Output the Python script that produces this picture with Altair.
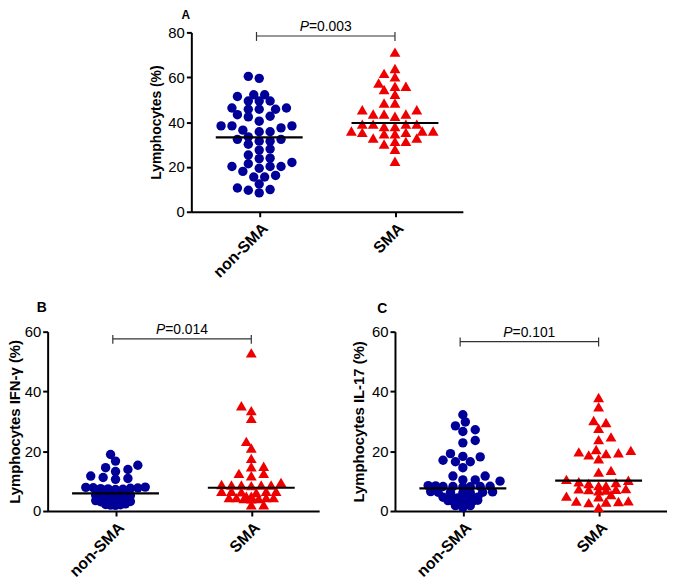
import altair as alt
import pandas as pd

# ---------------- data ----------------
groups = ["non-SMA", "SMA"]

a_non = [60.4, 59.5, 52.2, 51.4, 52.2, 49.4, 49.4, 49.4, 46.3, 45.7, 45.7, 45.7, 46.3,
         42.3, 42.6, 43.3, 40.4, 38.3, 37.4, 35.7, 35.7, 36.4, 38.3, 38.3, 32.3, 31.5,
         30.1, 31.5, 32.3, 33.4, 27.5, 28.0, 25.3, 23.9, 22.0, 23.7, 20.2, 20.2, 20.2,
         21.4, 19.4, 18.0, 15.5, 15.5, 16.2, 12.4, 10.6, 8.4, 9.6, 9.9]
a_sma = [71.2, 63.9, 61.7, 60.2, 56.0, 54.5, 56.0, 57.4, 52.4, 48.5, 48.5, 45.5, 45.5,
         43.6, 43.6, 43.6, 42.6, 39.1, 39.1, 38.0, 38.0, 39.1, 39.1, 35.4, 36.0, 34.8,
         36.0, 34.8, 36.0, 35.4, 31.4, 32.9, 32.9, 31.4, 30.2, 27.9, 22.5]

b_non = [18.9, 16.7, 15.3, 14.5, 13.9, 13.2, 11.7, 11.2, 10.9, 10.6,
         8.0, 7.5, 7.8, 7.2, 7.6, 7.9, 7.3, 7.7, 7.4,
         5.5, 5.0, 5.3, 4.8, 5.6, 5.1, 4.9, 5.4, 5.2, 4.7, 5.8, 5.0, 4.5, 5.3,
         3.5, 3.0, 3.3, 2.8, 3.6, 3.1, 2.9, 3.4, 3.2, 2.7, 3.5, 3.0,
         2.2, 2.0, 2.4, 2.1, 1.9]
b_sma = [52.9, 35.2, 33.6, 31.0, 23.3, 21.1, 17.6, 15.0, 14.8, 12.6, 11.8, 12.6,
         8.7, 8.7, 8.9, 8.7, 8.5, 8.7, 9.6,
         6.6, 6.4, 6.6, 6.2, 6.6, 6.6,
         4.5, 4.2, 4.1, 5.0, 5.0, 4.5, 4.2, 4.5, 4.5,
         2.1, 2.1]

c_non = [32.2, 29.8, 28.5, 26.6, 27.2, 23.6, 22.8, 19.2, 18.3, 18.1, 17.0, 16.5, 16.5,
         14.5, 11.7, 11.7, 10.4, 10.4, 10.0,
         8.2, 8.0, 8.3, 8.5, 8.1, 8.2, 8.4, 8.2,
         6.3, 6.1, 6.4, 6.3, 6.2, 6.5, 6.3,
         4.5, 4.4, 4.6, 4.6, 4.5, 4.3, 4.4, 4.5,
         3.4, 3.3, 3.4, 3.5, 3.2, 3.4, 3.6,
         1.8, 1.8, 1.2]
c_sma = [38.0, 34.9, 30.3, 29.6, 27.7, 24.8, 23.9, 20.6, 20.3, 19.8, 19.5, 19.2, 18.8,
         17.5, 13.6, 13.0, 10.6, 10.3, 9.8, 9.5, 9.2, 8.5, 8.5, 7.3, 7.0, 7.5, 6.8, 7.2,
         7.4, 5.5, 3.2, 3.0, 3.4, 2.8, 3.3, 1.2, 5.0, 4.8]

medians = {"A": [33.2, 39.6], "B": [5.9, 7.8], "C": [7.6, 10.2]}
y_max = {"A": 80, "B": 60, "C": 60}
y_ticks = {"A": [0, 20, 40, 60, 80], "B": [0, 20, 40, 60], "C": [0, 20, 40, 60]}
y_titles = {"A": "Lymphocytes (%)", "B": "Lymphocytes IFN-γ (%)", "C": "Lymphocytes IL-17 (%)"}
bracket_y = {"A": 78.4, "B": 57.6, "C": 56.7}
p_values = {"A": "=0.003", "B": "=0.014", "C": "=0.101"}

W, H = 274, 181
FONT = "Liberation Sans"


def swarm(values, ppu, wmax, step, smax=11.0, smin=5.5, sy_min=1.8):
    """Prism-like scatter: horizontal pixel offsets, rows compressed where points are dense"""
    ys = [v * ppu for v in values]
    order = sorted(range(len(values)), key=lambda i: ys[i])
    placed = []
    offs = [0.0] * len(values)
    for i in order:
        y = ys[i]
        n = sum(1 for yy in ys if abs(yy - y) < 5)
        sx = max(smin, min(smax, wmax / n))
        t = (sx - smin) / (smax - smin)
        sy = sy_min + t * (0.65 * smax - sy_min)
        k = 0
        found = None
        while found is None:
            cands = [0.0] if k == 0 else ([k * step, -k * step] if k % 2 else [-k * step, k * step])
            for x in cands:
                if all(((x - px) / sx) ** 2 + ((y - py) / sy) ** 2 >= 0.999 for px, py in placed):
                    found = x
                    break
            k += 1
        placed.append((found, y))
        offs[i] = found
    return offs


def panel(key, non, sma, title_x, title_size, label_x, label_y, label_size, wmax, step, smin):
    ymax = y_max[key]
    ppu = H / ymax
    rows = []
    for gi, (g, vals) in enumerate(zip(groups, [non, sma])):
        offs = swarm(vals, ppu, wmax, step, smin=smin)
        for v, o in zip(vals, offs):
            rows.append({"x": gi + o / (W / 2), "y": v, "g": g})
    pts = pd.DataFrame(rows)

    xenc = alt.X("x:Q", scale=alt.Scale(domain=[-0.5, 1.5], nice=False, zero=False),
                 axis=alt.Axis(values=[0, 1],
                               labelExpr="datum.value == 0 ? 'non-SMA' : 'SMA'",
                               labelAngle=-45, labelFontSize=16, labelFontWeight="bold",
                               labelFlush=False, labelPadding=3, title=None))
    yenc = alt.Y("y:Q", scale=alt.Scale(domain=[0, ymax], nice=False, zero=True),
                 axis=alt.Axis(values=y_ticks[key], title=y_titles[key], titleX=title_x,
                               titleY=H / 2, titleFontSize=title_size, titleFontWeight="bold",
                               titleBaseline="middle", titleAlign="center",
                               labelFontSize=15, labelPadding=2))

    circles = alt.Chart(pts[pts.g == groups[0]]).mark_point(
        shape="circle", filled=True, size=90, color="#000099", opacity=1
    ).encode(x=xenc, y=yenc)
    tris = alt.Chart(pts[pts.g == groups[1]]).mark_point(
        shape="triangle-up", filled=True, size=120, color="#ee0000", opacity=1
    ).encode(x=xenc, y=yenc)

    med = pd.DataFrame({"x": [i - 0.32 for i in range(2)], "x2": [i + 0.32 for i in range(2)],
                        "y": medians[key]})
    med_rule = alt.Chart(med).mark_rule(color="black", strokeWidth=2.2).encode(
        x=xenc, x2="x2:Q", y=yenc)

    br = pd.DataFrame({"x": [-0.02], "x2": [1.0], "y": [bracket_y[key]]})
    br_h = alt.Chart(br).mark_rule(color="#333333", strokeWidth=1.2).encode(x=xenc, x2="x2:Q", y=yenc)
    brv = pd.DataFrame({"x": [-0.02, 1.0], "y": [bracket_y[key]] * 2})
    br_v = alt.Chart(brv).mark_rule(color="#333333", strokeWidth=1.2, yOffset=-4, y2Offset=5).encode(
        x=xenc, y=yenc, y2="y:Q")

    pt = pd.DataFrame({"x": [0.49], "y": [bracket_y[key]], "p": ["P"], "t": [p_values[key]]})
    p1 = alt.Chart(pt).mark_text(font=FONT, fontSize=14, fontStyle="italic", align="right",
                                 baseline="alphabetic", dx=-17, dy=-5, color="black").encode(
        x=xenc, y=yenc, text="p:N")
    p2 = alt.Chart(pt).mark_text(font=FONT, fontSize=14, align="left",
                                 baseline="alphabetic", dx=-17, dy=-5, color="black").encode(
        x=xenc, y=yenc, text="t:N")

    lab = alt.Chart(pd.DataFrame({"t": [key]})).mark_text(
        font=FONT, fontSize=label_size, fontWeight="bold", align="left", baseline="top",
        color="black").encode(x=alt.value(label_x), y=alt.value(label_y), text="t:N")

    return alt.layer(circles, tris, med_rule, br_h, br_v, p1, p2, lab).properties(width=W, height=H)


pA = panel("A", a_non, a_sma, title_x=-35, title_size=14, label_x=-10, label_y=-23, label_size=12,
           wmax=1000, step=5.5, smin=5.5)
pB = panel("B", b_non, b_sma, title_x=-33, title_size=15, label_x=-11, label_y=-31, label_size=14,
           wmax=65, step=2.5, smin=5.0)
pC = panel("C", c_non, c_sma, title_x=-37, title_size=15, label_x=-18, label_y=-30, label_size=14,
           wmax=65, step=2.5, smin=5.0)

spacer = alt.Chart(pd.DataFrame({"a": [0]})).mark_point(opacity=0).encode(
    x=alt.value(0), y=alt.value(0)).properties(width=125, height=H)

top = alt.hconcat(spacer, pA, spacing=20, bounds="flush")
bottom = alt.hconcat(pB, pC, spacing=76.5, bounds="flush")

chart = alt.vconcat(top, bottom, spacing=302, bounds="flush").properties(
    padding={"left": 0, "top": -2, "right": 0, "bottom": 0}, background="white"
).configure_view(stroke=None).configure_axis(
    grid=False, domainColor="black", domainWidth=2, tickColor="black", tickWidth=2,
    tickSize=5, labelFont=FONT, titleFont=FONT, labelColor="black", titleColor="black"
)

chart.save("out.html", embed_options={"renderer": "svg", "actions": False})
